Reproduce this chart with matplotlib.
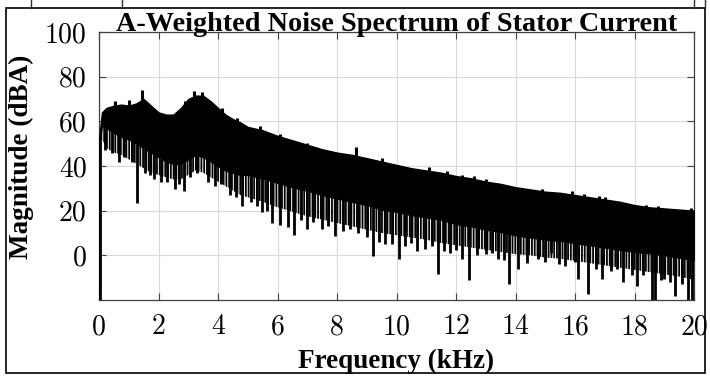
import numpy as np
import matplotlib
matplotlib.use("Agg")
import matplotlib.pyplot as plt
from matplotlib.patches import Rectangle
from matplotlib.lines import Line2D

# ---------------- data ----------------
freq_khz = [0.0, 0.1, 0.25, 0.5, 0.75, 1.0, 1.25, 1.5, 1.75, 2.0, 2.25, 2.5, 2.75,
            3.0, 3.25, 3.5, 3.75, 4.0, 4.25, 4.5, 4.75, 5.0,
            5.5, 6.0, 6.5, 7.0, 7.5, 8.0, 8.5, 9.0, 9.5, 10.0, 10.5, 11.0, 11.5,
            12.0, 12.5, 13.0, 13.5, 14.0, 14.5, 15.0, 15.5, 16.0, 16.5, 17.0,
            17.5, 18.0, 18.5, 19.0, 19.5, 20.0]
# upper edge of the spectrum (dBA)
upper_db = [52, 64, 66, 67, 67.5, 67, 68, 70, 67, 64, 63, 63, 66,
            70, 71.5, 71.5, 69, 66, 63, 61, 59.5, 57.5,
            56, 53.5, 51.5, 49.5, 47.5, 46, 45, 43.5, 42, 40.5, 39, 38, 37,
            35.5, 34.5, 33, 32, 30.5, 29.5, 28.5, 28, 27, 26, 25,
            24, 22.5, 21.5, 21, 20.5, 20]
# bottom of the dense (solid) part of the spectrum
solid_low_db = [50, 58, 57, 55, 53, 52, 50, 48, 46, 44, 42, 41, 41,
                43, 45, 44, 42, 40, 38, 37, 36, 36,
                34.5, 32.5, 30.5, 29, 27, 25.5, 24, 22.5, 20.5, 19.5, 18, 17, 16,
                14, 13, 11.5, 10.5, 9, 8, 7, 6.5, 5.5, 4.5, 3.5,
                2.5, 1.5, 1, 0, -1, -2]
# bottom reached by most of the downward spikes
fringe_low_db = [50, 52, 48, 46, 45, 43, 41, 39, 37, 36, 35, 34, 34,
                 36, 38, 37, 35, 33, 31, 29, 27, 26,
                 24, 21.5, 19.5, 17.5, 16, 14.5, 13, 11.5, 10, 9, 8, 7, 5.5,
                 4.5, 3.5, 2.5, 1.5, 0.5, 0, -1, -1.5, -2.5, -3.5, -4.5,
                 -5.5, -6.5, -7.5, -8.5, -9.5, -11]
# downward notches (kHz, dBA)
dip_khz = [0.03, 0.2, 0.44, 0.67, 0.85, 1.1, 1.28, 1.55, 1.7, 1.86, 2.1, 2.3, 2.55,
           2.7, 2.87, 3.05, 3.3, 3.66, 3.9, 4.1, 4.4, 4.6, 4.8, 5.1, 5.3, 5.48,
           5.65, 5.82, 6.08, 6.35, 6.55, 6.8, 6.99, 7.2, 7.5, 7.7, 7.93, 8.2, 8.45,
           8.7, 9.0, 9.22, 9.4, 9.6, 9.85, 10.08, 10.3, 10.5, 10.7, 10.95, 11.2,
           11.4, 11.6, 11.8, 12.0, 12.2, 12.44, 12.7, 13.0, 13.2, 13.4, 13.6,
           13.78, 14.1, 14.4, 14.75, 15.0, 15.2, 15.45, 15.66, 16.0, 16.1, 16.44,
           16.7, 16.9, 17.2, 17.4, 17.6, 17.9, 18.1, 18.3, 18.6, 18.7, 18.9, 19.0,
           19.2, 19.36, 19.6, 19.8, 19.93]
dip_db = [-20, 47, 46, 42, 44, 42, 23.5, 37, 36, 34, 33, 33, 29.5,
          32, 29, 35, 37, 33, 31, 32, 27, 26, 22, 24, 22, 19.6,
          20, 14.7, 13.8, 12.5, 8.9, 16, 11.6, 15, 12, 13, 8.5, 11, 12,
          9.8, 8, -0.4, 6, 5, 5, -1.8, 4, 5.5, 1.8, 3, 4,
          -8.5, 2, 1, 2.5, -1.8, -11, 0, 0.5, 1.2, -1.8, -2,
          -13, -6, -3.5, -1.8, -3, 1.2, -4, -4.8, -3, -10.7, -17.4,
          -6, -10.7, -7, -6, -12, -9, -13.8, -9, -20, -20, -11, -10.7,
          -12, -18, -13, -20, -20]
# upward peaks (kHz, dBA)
peak_khz = [0.55, 1.0, 1.45, 2.9, 3.2, 3.45, 4.13, 4.64, 5.4, 6.1, 7.0, 8.64, 9.5,
            11.1, 11.7, 12.2, 12.6, 13.0, 14.9, 15.9, 16.3, 16.8, 17.0, 18.4,
            18.8, 19.9]
peak_db = [69, 69.5, 74, 69, 73.5, 73, 66, 61.5, 58, 54.5, 50.5, 48.6, 43.5,
           39.7, 37.8, 36, 35.5, 34, 29.8, 28.6, 27.5, 26.5, 26, 22.7,
           22.2, 21]

x_ticks = [0, 2, 4, 6, 8, 10, 12, 14, 16, 18, 20]
y_ticks = [0, 20, 40, 60, 80, 100]

# ---------------- figure ----------------
W, H = 710, 376
plt.rcParams['hatch.linewidth'] = 1.3
fig = plt.figure(figsize=(W / 100, H / 100), dpi=100)
ax = fig.add_axes([99 / W, 76 / H, 595 / W, 268 / H])

f = np.asarray(freq_khz)
up = np.asarray(upper_db)
sl = np.asarray(solid_low_db)
fl = np.asarray(fringe_low_db)

ax.fill_between(f, sl, up, facecolor='black', edgecolor='black', linewidth=1.0, zorder=3)
ax.fill_between(f, fl, sl, facecolor='none', edgecolor='black', hatch='||||||',
                linewidth=0, zorder=3)
dk = np.asarray(dip_khz)
ax.vlines(dk, dip_db, np.interp(dk, f, sl), colors='black', linewidth=2.0, zorder=4)
pk = np.asarray(peak_khz)
ax.vlines(pk, np.interp(pk, f, up) - 2, peak_db, colors='black', linewidth=2.2, zorder=4)

ax.set_xlim(0, 20)
ax.set_ylim(-20, 100)
ax.set_xticks(x_ticks)
ax.set_yticks(y_ticks)
ax.set_xticklabels([str(t) for t in x_ticks], fontfamily='cmr10', fontsize=20)
ax.set_yticklabels([str(t) for t in y_ticks], fontfamily='cmr10', fontsize=20)
ax.tick_params(axis='x', pad=10)
ax.tick_params(axis='y', pad=9)
ax.tick_params(direction='in', length=5, width=0.8, color='#404040',
               top=True, right=True)
ax.grid(True, color='#d9d9d9', linewidth=0.8)
ax.set_axisbelow(True)
for s in ax.spines.values():
    s.set_color('#404040')
    s.set_linewidth(0.9)

ax.set_title('A-Weighted Noise Spectrum of Stator Current', fontfamily='Liberation Serif',
             fontweight='bold', fontsize=20.3, pad=0.5)
ax.set_xlabel('Frequency (kHz)', fontfamily='Liberation Serif', fontweight='bold',
              fontsize=19.5, labelpad=6)
ax.set_ylabel('Magnitude (dBA)', fontfamily='Liberation Serif', fontweight='bold',
              fontsize=19.5)
ax.yaxis.set_label_coords(-0.11, 0.535)

# outer frame of the figure
fig.patches.append(Rectangle((5.5 / W, 3 / H), 699.5 / W, 365 / H, transform=fig.transFigure,
                             fill=False, edgecolor='black', linewidth=1.2))
# remnants of the figure above (top strip)
for xp in [31, 122, 694, 705]:
    fig.lines.append(Line2D([xp / W, xp / W], [1 - 8 / H, 1.0], transform=fig.transFigure,
                            color='#303030', linewidth=1.0))

fig.savefig('out.png', dpi=100)
